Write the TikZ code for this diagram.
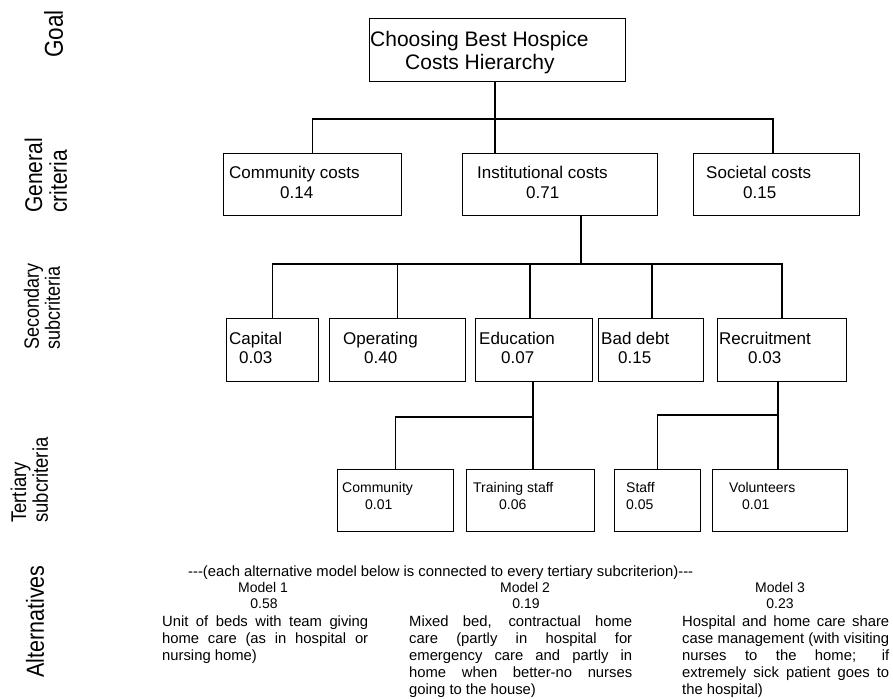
\documentclass[tikz,border=0pt]{standalone}
\usepackage{fontspec}
\usepackage{graphicx}
\setmainfont{Liberation Sans}
\newcommand\mkjust[2]{\hbox{\makebox[#1][s]{#2}}}
\newcommand\tallbox[1]{\scalebox{1}[1.15]{\begin{tabular}{@{}l@{}}#1\end{tabular}}}
\begin{document}
\begin{tikzpicture}[x=1pt,y=-1pt,
  box/.style={draw, line width=1.4pt, inner sep=0pt, anchor=north west},
  wire/.style={line width=1.4pt},
  lbl/.style={anchor=base west, inner sep=0pt},
  ctr/.style={anchor=base, inner sep=0pt},
  side/.style={rotate=90, anchor=west, inner sep=0pt},
  fgoal/.style={font=\fontsize{21}{25}\selectfont},
  fgen/.style={font=\fontsize{17}{20}\selectfont},
  fter/.style={font=\fontsize{14}{17}\selectfont},
  fdesc/.style={font=\fontsize{14.8}{17}\selectfont},
]
\path[use as bounding box] (0,0) rectangle (893,698);

% side labels
\node[side, font=\fontsize{22.5}{26}\selectfont] (lgoal) at (57,58) {\tallbox{Goal}};
\node[side, font=\fontsize{21}{21.7}\selectfont] (lgen) at (49.5,213) {\tallbox{General\\criteria}};
\node[side, font=\fontsize{18}{17.4}\selectfont] (lsec) at (45,350) {\tallbox{Secondary\\subcriteria}};
\node[side, font=\fontsize{18.5}{18.3}\selectfont] (lter) at (32.5,523) {\tallbox{Tertiary\\subcriteria}};
\node[side, font=\fontsize{21.5}{25}\selectfont] (lalt) at (38,678) {\tallbox{Alternatives}};

% boxes
\node[box, minimum width=256pt, minimum height=63pt] (goal) at (369,18) {};
\node[box, minimum width=178pt, minimum height=62pt] (cc) at (223,153) {};
\node[box, minimum width=195pt, minimum height=62pt] (ic) at (462,153) {};
\node[box, minimum width=166pt, minimum height=62pt] (sc) at (693,153) {};
\node[box, minimum width=92pt, minimum height=63pt] (cap) at (226,318) {};
\node[box, minimum width=136pt, minimum height=63pt] (op) at (329,318) {};
\node[box, minimum width=117pt, minimum height=63pt] (ed) at (475,318) {};
\node[box, minimum width=105pt, minimum height=63pt] (bd) at (598,318) {};
\node[box, minimum width=129pt, minimum height=63pt] (rec) at (717,318) {};
\node[box, minimum width=116pt, minimum height=62pt] (tc) at (337,469) {};
\node[box, minimum width=128pt, minimum height=62pt] (ts) at (466,469) {};
\node[box, minimum width=86pt, minimum height=62pt] (st) at (614,469) {};
\node[box, minimum width=135pt, minimum height=62pt] (vo) at (712,469) {};

% connectors level 1
\coordinate (j0) at (495,119);
\coordinate (j0r) at (773,119);
\draw[wire] (goal.south -| j0) -- (j0);
\draw[wire] (cc.north) |- (j0r) -- (sc.north -| j0r);
\draw[wire] (j0) -- (ic.north -| j0);
% level 2
\coordinate (j1) at (581,264);
\coordinate (e1) at (530,264);
\coordinate (b1) at (652,264);
\coordinate (r1) at (782,264);
\draw[wire] (ic.south -| j1) -- (j1);
\draw[wire] (cap.north) |- (r1) -- (rec.north -| r1);
\draw[wire] (op.north) -- (op.north |- j1);
\draw[wire] (e1) -- (ed.north -| e1);
\draw[wire] (b1) -- (bd.north -| b1);
% level 3
\coordinate (j2) at (533,417);
\coordinate (j3) at (778,415);
\draw[wire] (ed.south -| j2) -- (j2) -- (ts.north -| j2);
\draw[wire] (j2) -| (tc.north);
\draw[wire] (rec.south -| j3) -- (j3) -- (vo.north -| j3);
\draw[wire] (j3) -| (st.north);

% texts
\node[lbl, fgoal] (tg1) at (370,46.5) {Choosing Best Hospice};
\node[lbl, fgoal] (tg2) at (405,70) {Costs Hierarchy};

\node[lbl, fgen] (tcc1) at (229,178) {Community costs};
\node[lbl, fgen] (tcc2) at (280,198) {0.14};
\node[lbl, fgen] (tic1) at (477,178) {Institutional costs};
\node[lbl, fgen] (tic2) at (526,198) {0.71};
\node[lbl, fgen] (tsc1) at (706,178) {Societal costs};
\node[lbl, fgen] (tsc2) at (743,198) {0.15};

\node[lbl, fgen] (tcap1) at (229,344) {Capital};
\node[lbl, fgen] (tcap2) at (239,363) {0.03};
\node[lbl, fgen] (top1) at (343,344) {Operating};
\node[lbl, fgen] (top2) at (364,363) {0.40};
\node[lbl, fgen] (ted1) at (479,344) {Education};
\node[lbl, fgen] (ted2) at (501,363) {0.07};
\node[lbl, fgen] (tbd1) at (601,344) {Bad debt};
\node[lbl, fgen] (tbd2) at (618,363) {0.15};
\node[lbl, fgen] (trec1) at (719,344) {Recruitment};
\node[lbl, fgen] (trec2) at (748,363) {0.03};

\node[lbl, fter] (ttc1) at (342,492) {Community};
\node[lbl, fter] (ttc2) at (365,509) {0.01};
\node[lbl, fter] (tts1) at (473,492) {Training staff};
\node[lbl, fter] (tts2) at (499,509) {0.06};
\node[lbl, fter] (tst1) at (626,492) {Staff};
\node[lbl, fter] (tst2) at (626,509) {0.05};
\node[lbl, fter] (tvo1) at (729,492) {Volunteers};
\node[lbl, fter] (tvo2) at (742,509) {0.01};

% alternatives
\node[lbl, fdesc] (hdr) at (188,576) {-{}-{}-(each alternative model below is connected to every tertiary subcriterion)-{}-{}-};
\node[ctr, fter] (m1) at (263,592) {Model 1};
\node[ctr, fter] (m1v) at (264,608) {0.58};
\node[ctr, fter] (m2) at (525,592) {Model 2};
\node[ctr, fter] (m2v) at (526,608) {0.19};
\node[ctr, fter] (m3) at (780,592) {Model 3};
\node[ctr, fter] (m3v) at (780,608) {0.23};

\node[lbl, fdesc] (d1) at (162,626) {\vtop{\baselineskip=17pt
  \mkjust{206pt}{Unit of beds with team giving}
  \mkjust{206pt}{home care (as in hospital or}
  \hbox{nursing home)}}};
\node[lbl, fdesc] (d2) at (409,626) {\vtop{\baselineskip=17pt
  \mkjust{223pt}{Mixed bed, contractual home}
  \mkjust{223pt}{care (partly in hospital for}
  \mkjust{223pt}{emergency care and partly in}
  \mkjust{223pt}{home when better-no nurses}
  \hbox{going to the house)}}};
\node[lbl, fdesc] (d3) at (682,626) {\vtop{\baselineskip=17pt
  \mkjust{207pt}{Hospital and home care share}
  \mkjust{207pt}{case management (with visiting}
  \mkjust{207pt}{nurses to the home; if}
  \mkjust{207pt}{extremely sick patient goes to}
  \hbox{the hospital)}}};
\end{tikzpicture}
\end{document}
